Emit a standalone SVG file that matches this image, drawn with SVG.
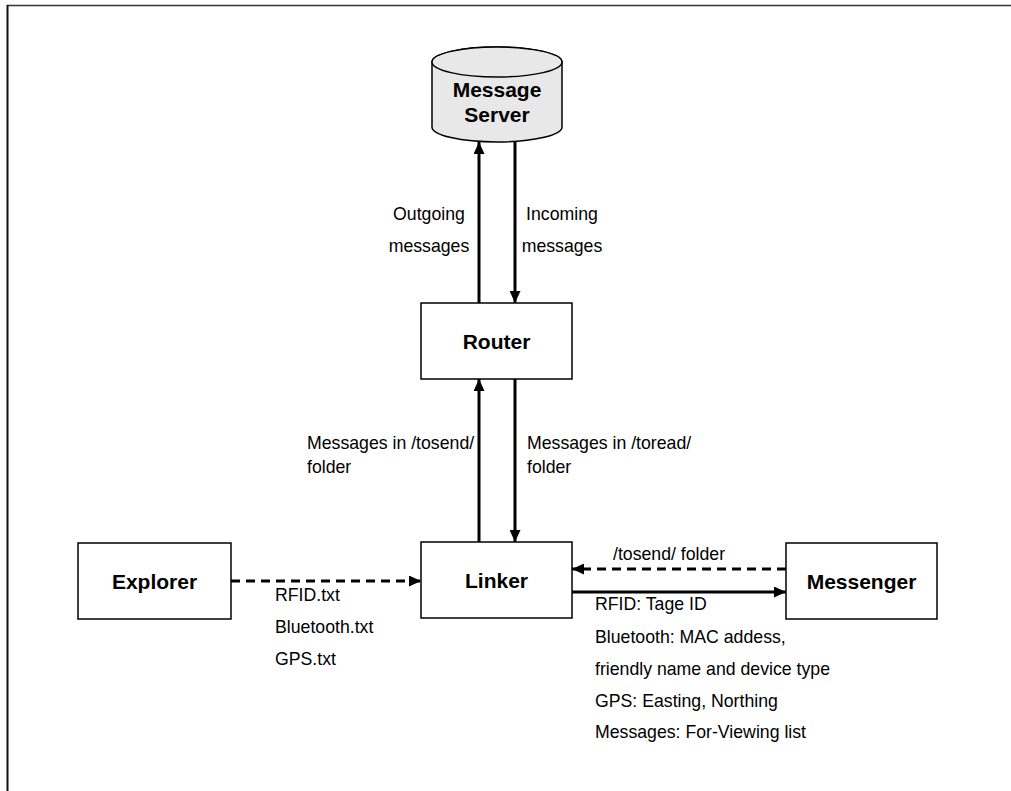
<svg xmlns="http://www.w3.org/2000/svg" width="1011" height="791" viewBox="0 0 1011 791">
  <style>
    .box { fill: #ffffff; stroke: #000000; stroke-width: 1.5; }
    .db { fill: #e8e8e8; stroke: #000000; stroke-width: 1.5; }
    .title { font-family: "Liberation Sans", Arial, sans-serif; font-size: 21px; font-weight: bold; fill: #000000; text-anchor: middle; }
    .lbl { font-family: "Liberation Sans", Arial, sans-serif; font-size: 17.7px; fill: #000000; }
    .mid { text-anchor: middle; }
    .solid { stroke: #000000; stroke-width: 3; fill: none; }
    .dash { stroke: #000000; stroke-width: 3; fill: none; stroke-dasharray: 9 6; }
  </style>
  <defs>
    <marker id="head" viewBox="0 0 12 11" refX="12" refY="5.5" markerWidth="12" markerHeight="11" markerUnits="userSpaceOnUse" orient="auto">
      <path d="M0,0 L12,5.5 L0,11 Z" fill="#000000"/>
    </marker>
  </defs>

  <rect width="1011" height="791" fill="#ffffff"/>
  <!-- page frame -->
  <line x1="7" y1="5.5" x2="1011" y2="5.5" stroke="#333333" stroke-width="1.5"/>
  <line x1="7.5" y1="5" x2="7.5" y2="791" stroke="#111111" stroke-width="2"/>

  <g id="message-server">
    <path class="db" d="M432,62 L432,127 A65,15 0 0 0 562,127 L562,62 A65,15 0 0 0 432,62 Z"/>
    <ellipse class="db" cx="497" cy="62" rx="65" ry="15"/>
    <text class="title" x="497" y="97">Message</text>
    <text class="title" x="497" y="122">Server</text>
  </g>

  <g id="router">
    <rect class="box" x="421" y="303" width="151" height="76"/>
    <text class="title" x="496.5" y="349">Router</text>
  </g>

  <g id="linker">
    <rect class="box" x="421" y="542" width="151" height="76"/>
    <text class="title" x="496.5" y="588">Linker</text>
  </g>

  <g id="explorer">
    <rect class="box" x="78" y="543" width="153" height="76"/>
    <text class="title" x="154.5" y="589">Explorer</text>
  </g>

  <g id="messenger">
    <rect class="box" x="786" y="543" width="151" height="76"/>
    <text class="title" x="861.5" y="589">Messenger</text>
  </g>

  <g id="connectors">
    <line class="solid" x1="479" y1="303" x2="479" y2="142" marker-end="url(#head)"/>
    <line class="solid" x1="515" y1="141" x2="515" y2="303" marker-end="url(#head)"/>
    <line class="solid" x1="479" y1="542" x2="479" y2="379" marker-end="url(#head)"/>
    <line class="solid" x1="515" y1="379" x2="515" y2="542" marker-end="url(#head)"/>
    <line class="dash" x1="231" y1="581" x2="421" y2="581" marker-end="url(#head)"/>
    <line class="dash" x1="786" y1="569" x2="572" y2="569" marker-end="url(#head)"/>
    <line class="solid" x1="572" y1="592" x2="786" y2="592" marker-end="url(#head)"/>
  </g>

  <g id="labels">
    <text class="lbl mid" x="429" y="220">Outgoing</text>
    <text class="lbl mid" x="429" y="252">messages</text>
    <text class="lbl mid" x="562" y="220">Incoming</text>
    <text class="lbl mid" x="562" y="252">messages</text>

    <text class="lbl" x="307" y="449">Messages in /tosend/</text>
    <text class="lbl" x="307" y="473">folder</text>
    <text class="lbl" x="527" y="449">Messages in /toread/</text>
    <text class="lbl" x="527" y="473">folder</text>

    <text class="lbl" x="275" y="601">RFID.txt</text>
    <text class="lbl" x="275" y="633">Bluetooth.txt</text>
    <text class="lbl" x="275" y="665">GPS.txt</text>

    <text class="lbl" x="613" y="560">/tosend/ folder</text>

    <text class="lbl" x="595" y="610">RFID: Tage ID</text>
    <text class="lbl" x="595" y="643">Bluetooth: MAC addess,</text>
    <text class="lbl" x="595" y="675">friendly name and device type</text>
    <text class="lbl" x="595" y="707">GPS: Easting, Northing</text>
    <text class="lbl" x="595" y="738">Messages: For-Viewing list</text>
  </g>
</svg>
